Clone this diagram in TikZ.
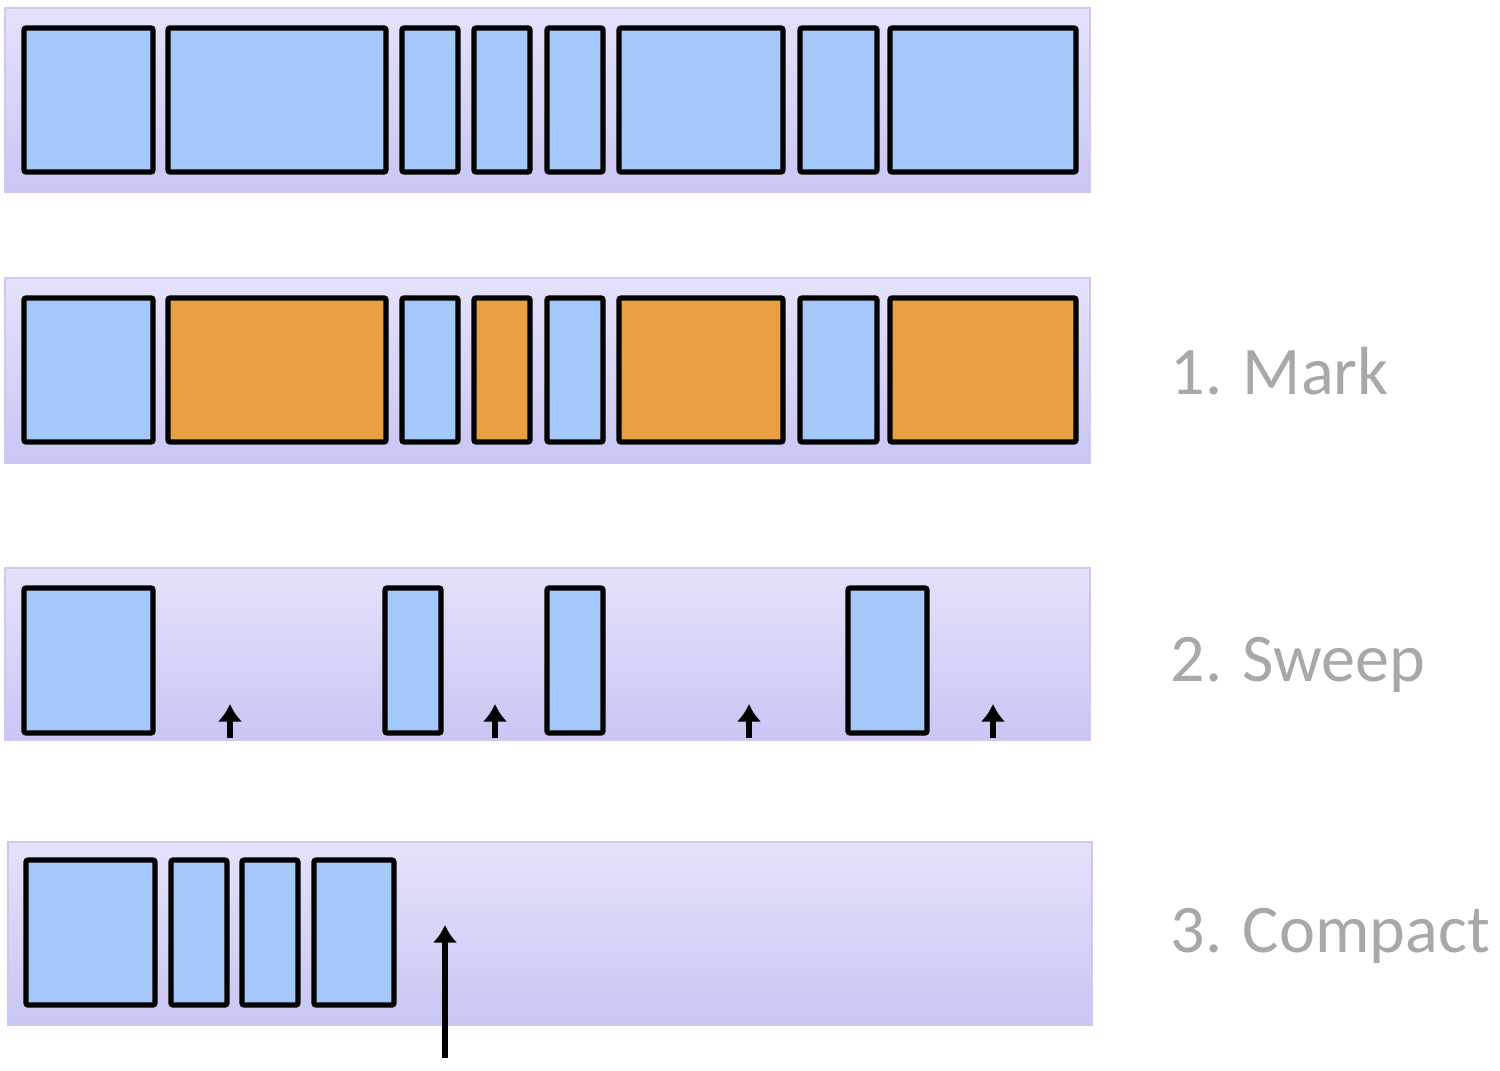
\documentclass[tikz,border=0pt]{standalone}
\usepackage{fontspec}
\setmainfont{Carlito}
\usetikzlibrary{arrows.meta}

\definecolor{heapblue}{HTML}{A5C8FA}
\definecolor{heaporange}{HTML}{E8A040}
\definecolor{stripTop}{HTML}{E4E2FA}
\definecolor{stripBot}{HTML}{C8C6F4}
\definecolor{stripEdge}{HTML}{CCC8F2}
\definecolor{labelgray}{HTML}{A8A8A8}

\tikzset{
  strip/.style={top color=stripTop, bottom color=stripBot, draw=stripEdge, line width=0.6pt},
  live/.style={fill=heapblue, draw=black, line width=1.5pt, rounded corners=0.6pt},
  ptr/.style={-{Latex[length=5pt,width=7pt]}, line width=1.6pt},
  phase/.style={anchor=base west, text=labelgray, inner sep=0pt,
    font=\fontsize{19.4}{23}\selectfont},
}

\begin{document}
\begin{tikzpicture}
\useasboundingbox (0,0) rectangle (15,10.7);

% heap strips
\shade[strip] (0.05,8.78) rectangle (10.90,10.62);
\shade[strip] (0.05,6.07) rectangle (10.90,7.92);
\shade[strip] (0.05,3.30) rectangle (10.90,5.02);
\shade[strip] (0.08,0.45) rectangle (10.92,2.28);

% before
\foreach \a/\b in {0.24/1.53, 1.68/3.86, 4.02/4.58, 4.74/5.30,
                   5.47/6.03, 6.19/7.83, 8.00/8.77, 8.90/10.76}
  \draw[live] (\a,8.98) rectangle (\b,10.42);

% mark
\foreach \a/\b/\c in {0.24/1.53/heapblue, 1.68/3.86/heaporange,
                      4.02/4.58/heapblue, 4.74/5.30/heaporange,
                      5.47/6.03/heapblue, 6.19/7.83/heaporange,
                      8.00/8.77/heapblue, 8.90/10.76/heaporange}
  \draw[live, fill=\c] (\a,6.28) rectangle (\b,7.72);

% sweep
\foreach \a/\b in {0.24/1.53, 3.85/4.41, 5.47/6.03, 8.48/9.27}
  \draw[live] (\a,3.37) rectangle (\b,4.82);
\foreach \x [count=\i] in {2.30, 4.95, 7.49, 9.93}{
  \coordinate (free\i) at (\x,3.32);
  \coordinate (freetip\i) at (\x,3.66);
  \draw[ptr] (free\i) -- (freetip\i);
}

% compact
\foreach \a/\b in {0.26/1.55, 1.71/2.27, 2.42/2.98, 3.14/3.94}
  \draw[live] (\a,0.65) rectangle (\b,2.10);
\coordinate (top) at (4.45,0.12);
\coordinate (toptip) at (4.45,1.45);
\draw[ptr] (top) -- (toptip);

\node[phase] (mark) at (11.70,6.75) {1. Mark};
\node[phase] (sweep) at (11.70,3.88) {2. Sweep};
\node[phase] (compact) at (11.70,1.18) {3. Compact};
\end{tikzpicture}
\end{document}
